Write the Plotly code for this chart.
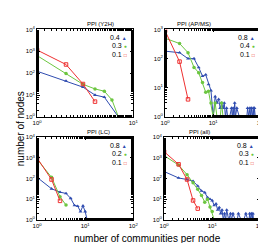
import plotly.graph_objects as go

# ---- data ----
y2h_04_x = [1, 2, 3, 4, 5, 7]
y2h_04_y = [123, 44, 23, 10, 8, 1]
y2h_03_x = [1, 2, 3, 4, 5, 6, 7]
y2h_03_y = [640, 97, 31, 19, 15, 6, 1]
y2h_01_x = [1, 2, 3, 4]
y2h_01_y = [1150, 250, 32, 5]

ap_08_x = [1, 2, 3, 4, 5, 6, 7, 8, 9, 10, 11, 12, 13, 14, 15, 16, 17, 18, 19, 20, 22, 24, 25, 26, 27, 28, 29, 31, 35, 40, 50, 52, 55, 58, 60, 62, 65, 68, 70, 72, 75]
ap_08_y = [180, 160, 100, 100, 50, 25, 28, 13, 8, 1, 5, 3, 4, 2, 3, 2, 3, 1, 2, 1, 1, 2, 1, 2, 1, 3, 1, 2, 1, 1, 1, 2, 1, 2, 1, 2, 1, 2, 1, 2, 1]
ap_04_x = [1, 2, 3, 4, 5, 6, 7, 8, 9, 10, 11, 12, 13, 14, 15, 16]
ap_04_y = [500, 330, 160, 50, 33, 15, 7, 7.6, 3, 1, 3, 1, 1, 1, 3, 1]
ap_01_x = [1, 2, 3]
ap_01_y = [900, 79, 4]

lc_08_x = [1, 2, 3, 4, 5, 6, 7, 8, 9, 10, 11, 12, 13, 14, 15, 16, 17]
lc_08_y = [115, 32, 22, 19, 11, 5, 4.6, 2.5, 4.8, 2.5, 1, 1, 1, 1, 1, 1, 1]
lc_02_x = [1, 2, 3, 4]
lc_02_y = [870, 115, 13, 5.2]
lc_01_x = [1, 2, 3]
lc_01_y = [1000, 90, 8.3]

all_08_x = [1, 2, 3, 4, 5, 6, 7, 8, 9, 10, 11, 12, 13, 14, 15, 16, 17, 18, 19, 20, 22, 24, 25, 27, 30, 33, 35, 40, 45, 50, 55, 58, 60, 62, 65, 68, 70, 72]
all_08_y = [220, 107, 90, 75, 44, 25, 21, 12, 10, 8.6, 5, 6, 3, 4, 2, 3, 1, 2, 1, 3, 1, 2, 1, 2, 1, 1, 2, 1, 1, 2, 1, 1, 2, 1, 2, 1, 2, 1]
all_03_x = [1, 2, 3, 4, 5, 6, 7, 8, 9, 10, 11, 12, 13, 14]
all_03_y = [1300, 450, 155, 63, 30, 15, 7.2, 10, 4.2, 2.5, 1, 1, 1, 1]
all_01_x = [1, 2, 3, 4, 5]
all_01_y = [2000, 490, 90, 8.7, 3.5]

titles = ["PPI (Y2H)", "PPI (AP/MS)", "PPI (LC)", "PPI (all)"]
legend_labels = [["0.4", "0.3", "0.1"], ["0.8", "0.4", "0.1"], ["0.8", "0.2", "0.1"], ["0.8", "0.3", "0.1"]]
panels = [
    [(y2h_04_x, y2h_04_y), (y2h_03_x, y2h_03_y), (y2h_01_x, y2h_01_y)],
    [(ap_08_x, ap_08_y), (ap_04_x, ap_04_y), (ap_01_x, ap_01_y)],
    [(lc_08_x, lc_08_y), (lc_02_x, lc_02_y), (lc_01_x, lc_01_y)],
    [(all_08_x, all_08_y), (all_03_x, all_03_y), (all_01_x, all_01_y)],
]
x_max_exp = [1, 2, 2, 2]
y_max_exp = [4, 3, 4, 4]

# ---- styles ----
colors = ["#2f4cb0", "#6cc640", "#ee3030"]
symbols = ["triangle-up", "circle", "square-open"]
glyphs = ["▲", "●", "□"]
W, H = 266, 243
xdom = [(25 / W, 125 / W), (158 / W, 258 / W), (25 / W, 125 / W), (157 / W, 257 / W)]
ydom = [(1 - 108 / H, 1 - 18 / H), (1 - 108 / H, 1 - 18 / H), (1 - 214 / H, 1 - 129 / H), (1 - 214 / H, 1 - 129 / H)]

fig = go.Figure()
FONT = "Liberation Sans, Arial, sans-serif"

for i in range(4):
    xa = "x" if i == 0 else f"x{i+1}"
    ya = "y" if i == 0 else f"y{i+1}"
    for j, (xs, ys) in enumerate(panels[i]):
        fig.add_trace(go.Scatter(
            x=xs, y=ys, mode="lines+markers", xaxis=xa, yaxis=ya,
            line=dict(color=colors[j], width=1),
            marker=dict(symbol=symbols[j], size=3.5, color=colors[j],
                        line=dict(color=colors[j], width=1 if j == 2 else 0)),
            showlegend=False, cliponaxis=True))
    axis_common = dict(type="log", showgrid=False, zeroline=False, showline=True,
                       linecolor="black", linewidth=1, mirror="ticks", ticks="inside",
                       ticklen=3, tickcolor="black", tickfont=dict(size=6, family=FONT, color="black"),
                       minor=dict(ticks="inside", ticklen=2, tickcolor="black", showgrid=False))
    xk = "xaxis" if i == 0 else f"xaxis{i+1}"
    yk = "yaxis" if i == 0 else f"yaxis{i+1}"
    xv = [10 ** k for k in range(x_max_exp[i] + 1)]
    yv = [10 ** k for k in range(y_max_exp[i] + 1)]
    fig.update_layout({
        xk: dict(axis_common, domain=list(xdom[i]), anchor=ya, range=[0, x_max_exp[i]],
                 tickvals=xv, ticktext=[f"10<sup>{k}</sup>" for k in range(x_max_exp[i] + 1)]),
        yk: dict(axis_common, domain=list(ydom[i]), anchor=xa, range=[0, y_max_exp[i]],
                 tickvals=yv, ticktext=[f"10<sup>{k}</sup>" for k in range(y_max_exp[i] + 1)]),
    })
    # panel title
    fig.add_annotation(x=(xdom[i][0] + xdom[i][1]) / 2, y=ydom[i][1], xref="paper", yref="paper",
                       text=titles[i], showarrow=False, yanchor="bottom", yshift=0,
                       font=dict(size=6, family=FONT, color="black"))
    # legend entries
    for j in range(3):
        fig.add_annotation(x=xdom[i][1] - 4 / W, y=ydom[i][1] - (8 + 9 * j) / H, xref="paper", yref="paper",
                           text=f"{legend_labels[i][j]} <span style='color:{colors[j]};font-size:5px'>{glyphs[j]}</span>",
                           showarrow=False, xanchor="right", yanchor="middle",
                           font=dict(size=7, family=FONT, color="black"))

fig.add_annotation(x=140 / W, y=1 - 233 / H, xref="paper", yref="paper", text="number of communities per node",
                   showarrow=False, font=dict(size=10, family=FONT, color="black"), yanchor="middle")
fig.add_annotation(x=8 / W, y=1 - 120 / H, xref="paper", yref="paper", text="number of nodes", textangle=-90,
                   showarrow=False, font=dict(size=10, family=FONT, color="black"), xanchor="center")

fig.update_layout(width=W, height=H, margin=dict(l=0, r=0, t=0, b=0),
                  paper_bgcolor="white", plot_bgcolor="white", showlegend=False)
fig.write_html("out.html")
